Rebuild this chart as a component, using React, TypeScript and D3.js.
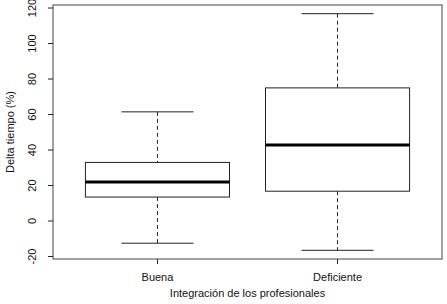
import React from 'react';
import * as d3 from 'd3';

// data
const categories = ['Buena', 'Deficiente'];
const whiskerLow = [-12.5, -16.5];
const q1 = [13.5, 16.8];
const medians = [22, 42.8];
const q3 = [33, 75];
const whiskerHigh = [61.5, 116.8];
const yTicks = [-20, 0, 20, 40, 60, 80, 100, 120];

const W = 447;
const H = 304;
const margin = { top: 5, right: 5, bottom: 45, left: 53 };

const App: React.FC = () => {
  const plotW = W - margin.left - margin.right;
  const plotH = H - margin.top - margin.bottom;

  // R-style 4% padded domains
  const x = d3.scaleLinear().domain([0.42, 2.58]).range([margin.left, margin.left + plotW]);
  const y = d3.scaleLinear().domain([-21.4, 121.7]).range([margin.top + plotH, margin.top]);

  const boxHalf = x(1.4) - x(1);
  const capHalf = x(1.2) - x(1);
  const stroke = '#222';
  const font = 'Liberation Sans, Arial, sans-serif';

  return (
    <svg width={W} height={H} style={{ position: 'absolute', left: 0, top: 0, background: '#fff' }}>
      {categories.map((c, i) => {
        const cx = x(i + 1);
        return (
          <g key={c}>
            {/* whiskers */}
            <line x1={cx} x2={cx} y1={y(whiskerHigh[i])} y2={y(q3[i])} stroke={stroke} strokeDasharray="4,3" />
            <line x1={cx} x2={cx} y1={y(q1[i])} y2={y(whiskerLow[i])} stroke={stroke} strokeDasharray="4,3" />
            <line x1={cx - capHalf} x2={cx + capHalf} y1={y(whiskerHigh[i])} y2={y(whiskerHigh[i])} stroke={stroke} />
            <line x1={cx - capHalf} x2={cx + capHalf} y1={y(whiskerLow[i])} y2={y(whiskerLow[i])} stroke={stroke} />
            {/* box */}
            <rect
              x={cx - boxHalf}
              y={y(q3[i])}
              width={boxHalf * 2}
              height={y(q1[i]) - y(q3[i])}
              fill="#fff"
              stroke={stroke}
            />
            <line x1={cx - boxHalf} x2={cx + boxHalf} y1={y(medians[i])} y2={y(medians[i])} stroke="#000" strokeWidth={3} />
            {/* x tick + label */}
            <line x1={cx} x2={cx} y1={margin.top + plotH} y2={margin.top + plotH + 5} stroke={stroke} />
            <text x={cx} y={281} textAnchor="middle" fontFamily={font} fontSize={11} fill="#111">{c}</text>
          </g>
        );
      })}

      {/* plot frame */}
      <rect x={margin.left} y={margin.top} width={plotW} height={plotH} fill="none" stroke="#444" />

      {/* y axis ticks */}
      {yTicks.map((t) => (
        <g key={t}>
          <line x1={margin.left - 5} x2={margin.left} y1={y(t)} y2={y(t)} stroke={stroke} />
          <text
            transform={`translate(${36},${y(t)}) rotate(-90)`}
            textAnchor="middle"
            fontFamily={font}
            fontSize={11}
            fill="#111"
          >
            {t}
          </text>
        </g>
      ))}

      <text
        transform={`translate(${14},${margin.top + plotH / 2}) rotate(-90)`}
        textAnchor="middle"
        fontFamily={font}
        fontSize={11}
        fill="#111"
      >
        Delta tiempo (%)
      </text>
      <text x={margin.left + plotW / 2} y={297} textAnchor="middle" fontFamily={font} fontSize={11} fill="#111">
        Integración de los profesionales
      </text>
    </svg>
  );
};

export default App;
